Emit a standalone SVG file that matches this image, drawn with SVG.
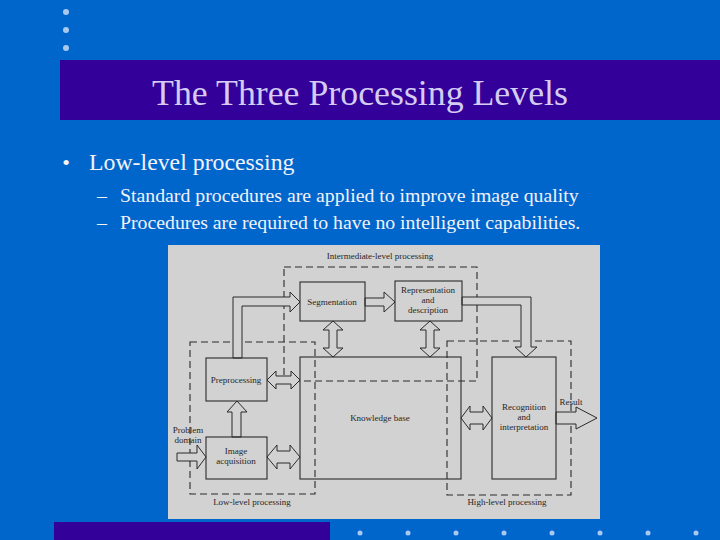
<svg xmlns="http://www.w3.org/2000/svg" width="720" height="540" viewBox="0 0 720 540">
<style>
.dot{fill:#a9c8ee}
.t{font-family:"Liberation Serif","Times New Roman",serif}
.title{font-size:35.8px;fill:#d4ccf2}
.body{fill:#f2f2f8}
.lbl{font-family:"Liberation Serif","Times New Roman",serif;font-size:9px;fill:#262626;text-anchor:middle}
.box{fill:none;stroke:#2a2a2a;stroke-width:1.1}
.dash{fill:none;stroke:#2a2a2a;stroke-width:1.1;stroke-dasharray:7 4}
.arr{fill:#d2d2d2;stroke:#2a2a2a;stroke-width:1;stroke-linejoin:miter}
</style>
<rect width="720" height="540" fill="#0066cc"/>
<g id="dots-top">
<circle class="dot" cx="66" cy="12" r="3"/>
<circle class="dot" cx="66" cy="30" r="3"/>
<circle class="dot" cx="66" cy="48" r="3"/>
</g>
<rect x="60" y="60" width="660" height="60" fill="#330099"/>
<text class="t title" x="360" y="105" text-anchor="middle">The Three Processing Levels</text>
<g id="bullets">
<text class="t body" x="66" y="170" font-size="22" text-anchor="middle">•</text>
<text class="t body" x="89" y="170" font-size="23.8">Low-level processing</text>
<text class="t body" x="97" y="202" font-size="19.8">–</text>
<text class="t body" x="120" y="202" font-size="19.8">Standard procedures are applied to improve image quality</text>
<text class="t body" x="97" y="229" font-size="19.8">–</text>
<text class="t body" x="120" y="229" font-size="19.8">Procedures are required to have no intelligent capabilities.</text>
</g>
<rect x="168" y="245" width="432" height="274" fill="#d2d2d2"/>
<g id="regions">
<g id="intermediate"><rect class="dash" x="284" y="267" width="193" height="114"/><text class="lbl" x="380" y="259">Intermediate-level processing</text></g>
<g id="low"><rect class="dash" x="190" y="342" width="125" height="152"/><text class="lbl" x="252" y="505">Low-level processing</text></g>
<g id="high"><rect class="dash" x="447" y="341" width="124" height="154"/><text class="lbl" x="507" y="505">High-level processing</text></g>
</g>
<g id="connectors">
<polygon class="arr" points="233,358 233,297 290,297 290,292 300,302 290,312 290,306 242,306 242,358"/>
<polygon class="arr" points="365,298 384,298 384,292 395,302 384,312 384,306 365,306"/>
<polygon class="arr" points="462,297 531,297 531,347 537,347 526,357 515,347 521,347 521,305 462,305"/>
<polygon class="arr" points="333,321 343,330 337,330 337,348 343,348 333,357 323,348 329,348 329,330 323,330"/>
<polygon class="arr" points="430,321 440,330 434,330 434,348 440,348 430,357 420,348 426,348 426,330 420,330"/>
<polygon class="arr" points="267,380 276,371 276,376 291,376 291,371 300,380 291,389 291,384 276,384 276,389"/>
<polygon class="arr" points="267,457 277,445 277,451 290,451 290,445 300,457 290,469 290,463 277,463 277,469"/>
<polygon class="arr" points="461,418 470,406 470,412 483,412 483,406 492,418 483,430 483,424 470,424 470,430"/>
<polygon class="arr" points="237,401 247,412 241,412 241,437 232,437 232,412 227,412"/>
<polygon class="arr" points="206,457 197,445 197,453 177,453 177,461 197,461 197,469"/>
<polygon class="arr" points="556,412 576,412 576,407 597,418 576,429 576,424 556,424"/>
</g>
<g id="segmentation"><rect class="box" x="300" y="282" width="65" height="39"/><text class="lbl" x="332" y="305">Segmentation</text></g>
<g id="representation"><rect class="box" x="395" y="281" width="67" height="40"/><text class="lbl" x="428" y="293">Representation</text><text class="lbl" x="428" y="303">and</text><text class="lbl" x="428" y="313">description</text></g>
<g id="preprocessing"><rect class="box" x="206" y="358" width="61" height="43"/><text class="lbl" x="236" y="383">Preprocessing</text></g>
<g id="acquisition"><rect class="box" x="206" y="437" width="61" height="42"/><text class="lbl" x="236" y="454">Image</text><text class="lbl" x="236" y="464">acquisition</text></g>
<g id="knowledge"><rect class="box" x="300" y="357" width="161" height="122"/><text class="lbl" x="380" y="421">Knowledge base</text></g>
<g id="recognition"><rect class="box" x="492" y="357" width="64" height="122"/><text class="lbl" x="524" y="410">Recognition</text><text class="lbl" x="524" y="420">and</text><text class="lbl" x="524" y="430">interpretation</text></g>
<g id="problem"><text class="lbl" x="188" y="433">Problem</text><text class="lbl" x="188" y="443">domain</text></g>
<g id="result"><text class="lbl" x="571" y="405">Result</text></g>
<rect x="54" y="522" width="276" height="18" fill="#330099"/>
<g id="dots-bottom">
<circle class="dot" cx="360" cy="533" r="2.5"/>
<circle class="dot" cx="408" cy="533" r="2.5"/>
<circle class="dot" cx="456" cy="533" r="2.5"/>
<circle class="dot" cx="504" cy="533" r="2.5"/>
<circle class="dot" cx="552" cy="533" r="2.5"/>
<circle class="dot" cx="600" cy="533" r="2.5"/>
<circle class="dot" cx="648" cy="533" r="2.5"/>
<circle class="dot" cx="696" cy="533" r="2.5"/>
</g>
</svg>
